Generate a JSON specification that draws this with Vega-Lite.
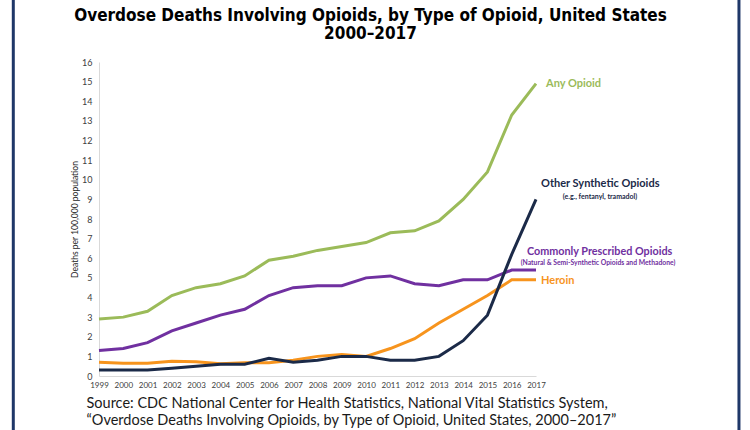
{
  "$schema": "https://vega.github.io/schema/vega-lite/v6.json",
  "width": 437,
  "height": 314,
  "autosize": {"type": "none"},
  "padding": {"left": 99, "top": 62, "right": 214, "bottom": 54},
  "background": "white",
  "config": {
    "view": {"stroke": null},
    "font": "Lato",
    "axis": {"labelOverlap": false, "labelFlush": false, "ticks": false, "grid": false, "domainColor": "#D9D9D9", "labelColor": "#404040", "tickCount": 30}
  },
  "title": {
    "text": ["Overdose Deaths Involving Opioids, by Type of Opioid, United States", "2000–2017"],
    "font": "DejaVu Sans Condensed",
    "fontSize": 17,
    "fontWeight": "bold",
    "color": "#000000",
    "anchor": "middle",
    "frame": "group",
    "baseline": "bottom",
    "dx": 53,
    "offset": -62,
    "lineHeight": 18
  },
  "datasets": {
    "series": [
      {"series": "Any Opioid", "year": 1999, "rate": 2.9},
      {"series": "Any Opioid", "year": 2000, "rate": 3.0},
      {"series": "Any Opioid", "year": 2001, "rate": 3.3},
      {"series": "Any Opioid", "year": 2002, "rate": 4.1},
      {"series": "Any Opioid", "year": 2003, "rate": 4.5},
      {"series": "Any Opioid", "year": 2004, "rate": 4.7},
      {"series": "Any Opioid", "year": 2005, "rate": 5.1},
      {"series": "Any Opioid", "year": 2006, "rate": 5.9},
      {"series": "Any Opioid", "year": 2007, "rate": 6.1},
      {"series": "Any Opioid", "year": 2008, "rate": 6.4},
      {"series": "Any Opioid", "year": 2009, "rate": 6.6},
      {"series": "Any Opioid", "year": 2010, "rate": 6.8},
      {"series": "Any Opioid", "year": 2011, "rate": 7.3},
      {"series": "Any Opioid", "year": 2012, "rate": 7.4},
      {"series": "Any Opioid", "year": 2013, "rate": 7.9},
      {"series": "Any Opioid", "year": 2014, "rate": 9.0},
      {"series": "Any Opioid", "year": 2015, "rate": 10.4},
      {"series": "Any Opioid", "year": 2016, "rate": 13.3},
      {"series": "Any Opioid", "year": 2017, "rate": 14.9},
      {"series": "Commonly Prescribed Opioids", "year": 1999, "rate": 1.3},
      {"series": "Commonly Prescribed Opioids", "year": 2000, "rate": 1.4},
      {"series": "Commonly Prescribed Opioids", "year": 2001, "rate": 1.7},
      {"series": "Commonly Prescribed Opioids", "year": 2002, "rate": 2.3},
      {"series": "Commonly Prescribed Opioids", "year": 2003, "rate": 2.7},
      {"series": "Commonly Prescribed Opioids", "year": 2004, "rate": 3.1},
      {"series": "Commonly Prescribed Opioids", "year": 2005, "rate": 3.4},
      {"series": "Commonly Prescribed Opioids", "year": 2006, "rate": 4.1},
      {"series": "Commonly Prescribed Opioids", "year": 2007, "rate": 4.5},
      {"series": "Commonly Prescribed Opioids", "year": 2008, "rate": 4.6},
      {"series": "Commonly Prescribed Opioids", "year": 2009, "rate": 4.6},
      {"series": "Commonly Prescribed Opioids", "year": 2010, "rate": 5.0},
      {"series": "Commonly Prescribed Opioids", "year": 2011, "rate": 5.1},
      {"series": "Commonly Prescribed Opioids", "year": 2012, "rate": 4.7},
      {"series": "Commonly Prescribed Opioids", "year": 2013, "rate": 4.6},
      {"series": "Commonly Prescribed Opioids", "year": 2014, "rate": 4.9},
      {"series": "Commonly Prescribed Opioids", "year": 2015, "rate": 4.9},
      {"series": "Commonly Prescribed Opioids", "year": 2016, "rate": 5.4},
      {"series": "Commonly Prescribed Opioids", "year": 2017, "rate": 5.4},
      {"series": "Heroin", "year": 1999, "rate": 0.7},
      {"series": "Heroin", "year": 2000, "rate": 0.65},
      {"series": "Heroin", "year": 2001, "rate": 0.65},
      {"series": "Heroin", "year": 2002, "rate": 0.75},
      {"series": "Heroin", "year": 2003, "rate": 0.73},
      {"series": "Heroin", "year": 2004, "rate": 0.62},
      {"series": "Heroin", "year": 2005, "rate": 0.68},
      {"series": "Heroin", "year": 2006, "rate": 0.68},
      {"series": "Heroin", "year": 2007, "rate": 0.8},
      {"series": "Heroin", "year": 2008, "rate": 1.0},
      {"series": "Heroin", "year": 2009, "rate": 1.1},
      {"series": "Heroin", "year": 2010, "rate": 1.0},
      {"series": "Heroin", "year": 2011, "rate": 1.4},
      {"series": "Heroin", "year": 2012, "rate": 1.9},
      {"series": "Heroin", "year": 2013, "rate": 2.7},
      {"series": "Heroin", "year": 2014, "rate": 3.4},
      {"series": "Heroin", "year": 2015, "rate": 4.1},
      {"series": "Heroin", "year": 2016, "rate": 4.9},
      {"series": "Heroin", "year": 2017, "rate": 4.9},
      {"series": "Other Synthetic Opioids", "year": 1999, "rate": 0.3},
      {"series": "Other Synthetic Opioids", "year": 2000, "rate": 0.3},
      {"series": "Other Synthetic Opioids", "year": 2001, "rate": 0.3},
      {"series": "Other Synthetic Opioids", "year": 2002, "rate": 0.4},
      {"series": "Other Synthetic Opioids", "year": 2003, "rate": 0.5},
      {"series": "Other Synthetic Opioids", "year": 2004, "rate": 0.6},
      {"series": "Other Synthetic Opioids", "year": 2005, "rate": 0.6},
      {"series": "Other Synthetic Opioids", "year": 2006, "rate": 0.9},
      {"series": "Other Synthetic Opioids", "year": 2007, "rate": 0.7},
      {"series": "Other Synthetic Opioids", "year": 2008, "rate": 0.8},
      {"series": "Other Synthetic Opioids", "year": 2009, "rate": 1.0},
      {"series": "Other Synthetic Opioids", "year": 2010, "rate": 1.0},
      {"series": "Other Synthetic Opioids", "year": 2011, "rate": 0.8},
      {"series": "Other Synthetic Opioids", "year": 2012, "rate": 0.8},
      {"series": "Other Synthetic Opioids", "year": 2013, "rate": 1.0},
      {"series": "Other Synthetic Opioids", "year": 2014, "rate": 1.8},
      {"series": "Other Synthetic Opioids", "year": 2015, "rate": 3.1},
      {"series": "Other Synthetic Opioids", "year": 2016, "rate": 6.2},
      {"series": "Other Synthetic Opioids", "year": 2017, "rate": 9.0}
    ],
    "labels": [
      {"series": "Any Opioid", "year": 2017, "rate": 14.9, "main": "Any Opioid", "sub": ""},
      {"series": "Other Synthetic Opioids", "year": 2017, "rate": 9.0, "main": "Other Synthetic Opioids", "sub": "(e.g., fentanyl, tramadol)"},
      {"series": "Commonly Prescribed Opioids", "year": 2017, "rate": 5.4, "main": "Commonly Prescribed Opioids", "sub": "(Natural & Semi-Synthetic Opioids and Methadone)"},
      {"series": "Heroin", "year": 2017, "rate": 4.9, "main": "Heroin", "sub": ""}
    ]
  },
  "layer": [
    {
      "data": {"name": "series"},
      "mark": {"type": "line", "strokeWidth": 3, "clip": false},
      "encoding": {
        "x": {
          "field": "year", "type": "quantitative",
          "scale": {"domain": [1999, 2017], "nice": false, "zero": false},
          "axis": {
            "values": [1999,2000,2001,2002,2003,2004,2005,2006,2007,2008,2009,2010,2011,2012,2013,2014,2015,2016,2017],
            "tickCount": 30,
            "format": "d", "labelFontSize": 8, "labelPadding": 5, "labelOverlap": false,
            "title": ["Source:  CDC National Center for Health Statistics, National Vital Statistics System,", "“Overdose Deaths Involving Opioids, by Type of Opioid, United States, 2000–2017”"],
            "titleFont": "Lato", "titleFontSize": 14.5, "titleFontWeight": "normal", "titleColor": "#1a1a1a",
            "titleAnchor": "start", "titleAlign": "left", "titleBaseline": "top", "titleX": -13, "titleY": 20, "titleLineHeight": 17
          }
        },
        "y": {
          "field": "rate", "type": "quantitative",
          "scale": {"domain": [0, 16], "nice": false},
          "axis": {
            "values": [0,1,2,3,4,5,6,7,8,9,10,11,12,13,14,15,16],
            "tickCount": 30,
            "format": "d",
            "labelFontSize": 9, "labelPadding": 7, "labelOverlap": false,
            "title": "Deaths per 100,000 population", "titleFontSize": 8.5, "titleFontWeight": "normal",
            "titleColor": "#262626", "titlePadding": 2
          }
        },
        "color": {
          "field": "series", "type": "nominal", "legend": null,
          "scale": {
            "domain": ["Any Opioid", "Other Synthetic Opioids", "Commonly Prescribed Opioids", "Heroin"],
            "range": ["#9BBB59", "#1B2A48", "#7030A0", "#F7941D"]
          }
        }
      }
    },
    {
      "data": {"name": "labels"},
      "transform": [{"filter": "datum.series === 'Any Opioid'"}],
      "mark": {"type": "text", "align": "left", "baseline": "middle", "dx": 10, "dy": 0, "fontSize": 11, "fontWeight": "bold"},
      "encoding": {
        "x": {"field": "year", "type": "quantitative"},
        "y": {"field": "rate", "type": "quantitative"},
        "text": {"field": "main"},
        "color": {"field": "series", "type": "nominal", "legend": null}
      }
    },
    {
      "data": {"name": "labels"},
      "transform": [{"filter": "datum.series === 'Other Synthetic Opioids'"}],
      "mark": {"type": "text", "align": "left", "baseline": "middle", "dx": 5, "dy": -15, "fontSize": 11, "fontWeight": "bold"},
      "encoding": {
        "x": {"field": "year", "type": "quantitative"},
        "y": {"field": "rate", "type": "quantitative"},
        "text": {"field": "main"},
        "color": {"field": "series", "type": "nominal", "legend": null}
      }
    },
    {
      "data": {"name": "labels"},
      "transform": [{"filter": "datum.series === 'Other Synthetic Opioids'"}],
      "mark": {"type": "text", "align": "center", "baseline": "middle", "dx": 64, "dy": -2, "fontSize": 7, "fontWeight": "bold"},
      "encoding": {
        "x": {"field": "year", "type": "quantitative"},
        "y": {"field": "rate", "type": "quantitative"},
        "text": {"field": "sub"},
        "color": {"field": "series", "type": "nominal", "legend": null}
      }
    },
    {
      "data": {"name": "labels"},
      "transform": [{"filter": "datum.series === 'Commonly Prescribed Opioids'"}],
      "mark": {"type": "text", "align": "left", "baseline": "middle", "dx": -9, "dy": -18, "fontSize": 10.8, "fontWeight": "bold"},
      "encoding": {
        "x": {"field": "year", "type": "quantitative"},
        "y": {"field": "rate", "type": "quantitative"},
        "text": {"field": "main"},
        "color": {"field": "series", "type": "nominal", "legend": null}
      }
    },
    {
      "data": {"name": "labels"},
      "transform": [{"filter": "datum.series === 'Commonly Prescribed Opioids'"}],
      "mark": {"type": "text", "align": "center", "baseline": "middle", "dx": 62, "dy": -7, "fontSize": 6.8, "fontWeight": "bold"},
      "encoding": {
        "x": {"field": "year", "type": "quantitative"},
        "y": {"field": "rate", "type": "quantitative"},
        "text": {"field": "sub"},
        "color": {"field": "series", "type": "nominal", "legend": null}
      }
    },
    {
      "data": {"name": "labels"},
      "transform": [{"filter": "datum.series === 'Heroin'"}],
      "mark": {"type": "text", "align": "left", "baseline": "middle", "dx": 5, "dy": 1, "fontSize": 11, "fontWeight": "bold"},
      "encoding": {
        "x": {"field": "year", "type": "quantitative"},
        "y": {"field": "rate", "type": "quantitative"},
        "text": {"field": "main"},
        "color": {"field": "series", "type": "nominal", "legend": null}
      }
    },
    {
      "data": {"values": [{"edge": 1995.47}, {"edge": 2025.36}]},
      "mark": {"type": "rule", "color": "#1F3768", "strokeWidth": 3, "clip": false},
      "encoding": {
        "x": {"field": "edge", "type": "quantitative"},
        "y": {"datum": 19.2},
        "y2": {"datum": -3}
      }
    }
  ]
}
